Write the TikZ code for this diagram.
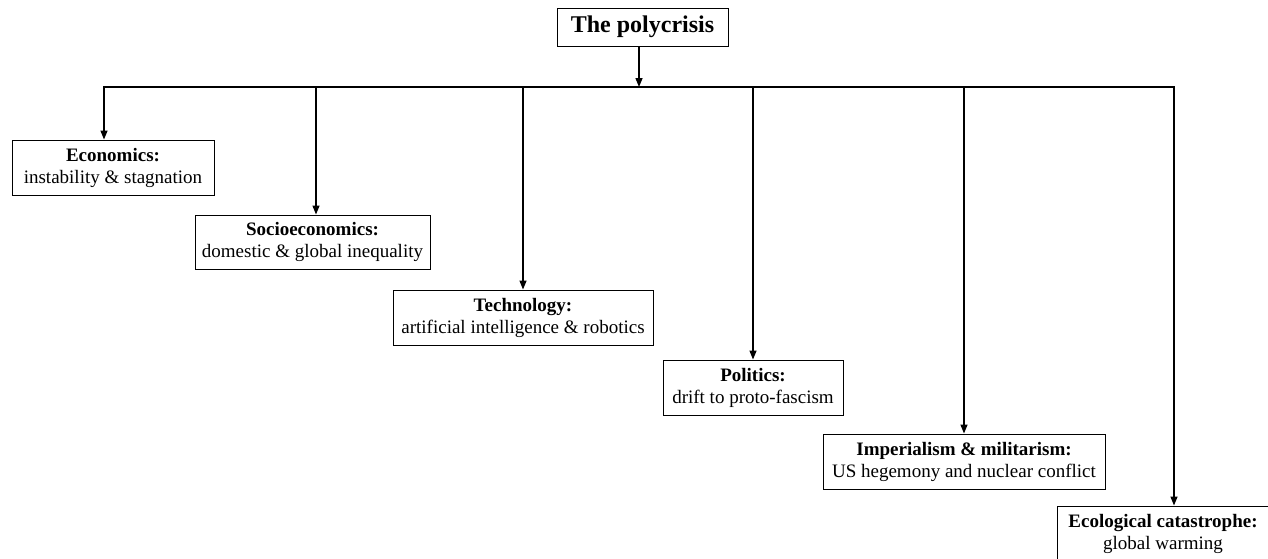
\documentclass[tikz,border=0pt]{standalone}
\usepackage{fontspec}
\setmainfont{Liberation Serif}
\usetikzlibrary{arrows.meta}
\begin{document}
\begin{tikzpicture}[x=1pt,y=-1pt,
  box/.style={draw=black, line width=1pt, align=center, inner sep=0pt,
    font=\fontsize{19}{22}\selectfont, minimum height=55pt},
  conn/.style={line width=1.4pt, -{Triangle[length=9pt,width=7pt]}},
  bus/.style={line width=1.4pt}]
\useasboundingbox (0,0) rectangle (1268,558);
\clip (0,0) rectangle (1268,558);
\fill[white] (0,0) rectangle (1268,558);
\node[box, minimum width=171pt, minimum height=38pt, font=\fontsize{24}{28}\selectfont\bfseries] (title) at (642.5,27) {The polycrisis};
\node[box, minimum width=202pt] (econ) at (113,167.5) {\textbf{Economics:}\\instability \& stagnation};
\node[box, minimum width=235pt, minimum height=54pt] (socio) at (312.5,242) {\textbf{Socioeconomics:}\\domestic \& global inequality};
\node[box, minimum width=260pt] (tech) at (523,317.5) {\textbf{Technology:}\\artificial intelligence \& robotics};
\node[box, minimum width=180pt] (pol) at (753,387.5) {\textbf{Politics:}\\drift to proto-fascism};
\node[box, minimum width=282pt] (imp) at (964,461.5) {\textbf{Imperialism \& militarism:}\\US hegemony and nuclear conflict};
\node[box, minimum width=212pt] (eco) at (1163,533.5) {\textbf{Ecological catastrophe:}\\global warming};
\coordinate (t0) at (639,87);
\coordinate (bl) at (104,87);
\coordinate (br) at (1174,87);
\coordinate (b2) at (316,87);
\coordinate (b3) at (523,87);
\coordinate (b4) at (753,87);
\coordinate (b5) at (964,87);
\draw[conn] (title.south -| t0) -- (t0);
\draw[bus, {Triangle[length=9pt,width=7pt]}-{Triangle[length=9pt,width=7pt]}] (bl |- econ.north) -- (bl) -- (br) -- (br |- eco.north);
\draw[conn] (b2) -- (b2 |- socio.north);
\draw[conn] (b3) -- (b3 |- tech.north);
\draw[conn] (b4) -- (b4 |- pol.north);
\draw[conn] (b5) -- (b5 |- imp.north);
\end{tikzpicture}
\end{document}
